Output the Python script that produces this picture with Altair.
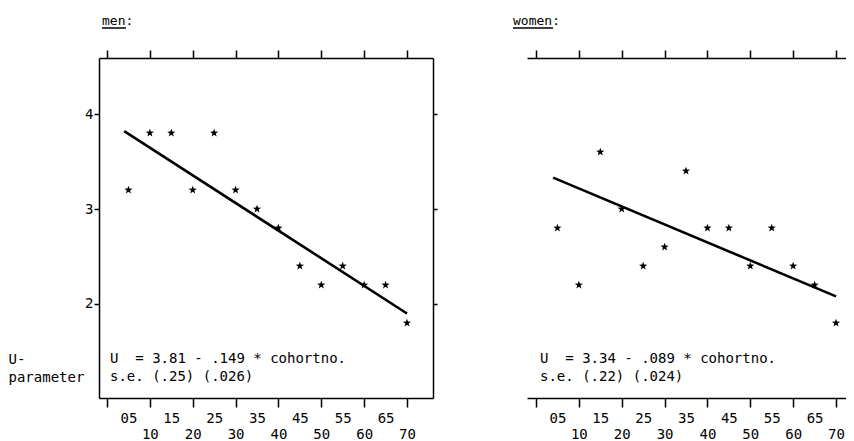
import altair as alt
import pandas as pd

# ---- data ----
cohorts = [5, 10, 15, 20, 25, 30, 35, 40, 45, 50, 55, 60, 65, 70]
men_u = [3.2, 3.8, 3.8, 3.2, 3.8, 3.2, 3.0, 2.8, 2.4, 2.2, 2.4, 2.2, 2.2, 1.8]
women_u = [2.8, 2.2, 3.6, 3.0, 2.4, 2.6, 3.4, 2.8, 2.8, 2.4, 2.8, 2.4, 2.2, 1.8]
fit_x = [4, 70]
men_fit = [3.82, 1.90]
women_fit = [3.33, 2.08]

bottom_ticks = [0, 5, 10, 15, 20, 25, 30, 35, 40, 45, 50, 55, 60, 65, 70]
top_ticks = [0, 10, 20, 30, 40, 50, 60, 70]
y_ticks = [2, 3, 4]

men_title = "men:"
women_title = "women:"
men_eq = ["U \u00a0= 3.81 - .149 * cohortno.", "s.e. (.25) (.026)"]
women_eq = ["U \u00a0= 3.34 - .089 * cohortno.", "s.e. (.22) (.024)"]
y_title = ["U-", "parameter"]

FONT = "DejaVu Sans Mono"
PLOT_H = 340
Y_DOMAIN = [1.01, 4.59]
STAR = ("M0,-1L0.235,-0.324L0.951,-0.309L0.38,0.124L0.588,0.809L0,0.4"
        "L-0.588,0.809L-0.38,0.124L-0.951,-0.309L-0.235,-0.324Z")

LABEL_EXPR = ("datum.value == 0 ? '' : (datum.value % 10 == 0 ? "
              "['', format(datum.value, '02d')] : format(datum.value, '02d'))")


def panel(title, u, fit, eq, xdom, width, title_dx, underline_w, eq_dx, right_axis, ytitle):
    pts = pd.DataFrame({"cohort": cohorts, "u": u})
    line = pd.DataFrame({"cohort": fit_x, "u": fit})
    xs = alt.Scale(domain=xdom, nice=False, zero=False)
    ys = alt.Scale(domain=Y_DOMAIN, nice=False, zero=False)

    bottom = alt.Axis(
        orient="bottom", values=bottom_ticks, labelExpr=LABEL_EXPR,
        tickSize=9,
        tickOpacity={"condition": {"test": "datum.value % 10 == 0", "value": 1}, "value": 0},
        labelBaseline="top", labelPadding=4, labelLineHeight=16,
        labelOverlap=False, labelFlush=False, labelBound=False,
        grid=False, title=None,
    )
    top = alt.Axis(orient="top", values=top_ticks, labels=False, tickSize=8,
                   grid=False, title=None)
    left_kw = dict(orient="left", values=y_ticks, tickSize=5, labelPadding=1,
                   grid=False, format="d")
    if ytitle is not None:
        left_kw.update(title=ytitle, titleAngle=0, titleAlign="left",
                       titleBaseline="alphabetic", titleX=-91, titleY=305,
                       titleFont=FONT, titleFontSize=14, titleFontWeight="normal",
                       titleLineHeight=18)
    else:
        left_kw.update(title=None)
    left = alt.Axis(**left_kw)

    points = alt.Chart(pts).mark_point(
        shape=STAR, filled=True, size=75, color="black", opacity=1
    ).encode(
        x=alt.X("cohort:Q", scale=xs, axis=bottom),
        y=alt.Y("u:Q", scale=ys, axis=left),
    )
    if right_axis:
        right = alt.Axis(orient="right", values=y_ticks, labels=False, tickSize=4,
                         grid=False, title=None)
        fit_y = alt.Y("u:Q", scale=ys, axis=right)
    else:
        fit_y = alt.Y("u:Q", scale=ys, axis=None)
    fitline = alt.Chart(line).mark_line(color="black", strokeWidth=2.6).encode(
        x=alt.X("cohort:Q", scale=xs, axis=top),
        y=fit_y,
    )
    ttl = alt.Chart(pd.DataFrame({"t": [title]})).mark_text(
        align="left", baseline="alphabetic", font=FONT, fontSize=13, color="black"
    ).encode(text="t:N", x=alt.value(title_dx), y=alt.value(-33))
    uline = alt.Chart(pd.DataFrame({"k": [0]})).mark_rule(
        color="black", strokeWidth=1.5
    ).encode(x=alt.value(title_dx), x2=alt.value(title_dx + underline_w),
             y=alt.value(-30))
    eqn = alt.Chart(pd.DataFrame({"k": [0]})).mark_text(
        text=eq, align="left", baseline="alphabetic", font=FONT, fontSize=14,
        lineHeight=18, color="black"
    ).encode(x=alt.value(eq_dx), y=alt.value(305))

    return alt.layer(points, fitline, ttl, uline, eqn).properties(
        width=width, height=PLOT_H)


men = panel(men_title, men_u, men_fit, men_eq, [-1.87, 76.07], 334, 3, 24, 11, True, y_title)
women = panel(women_title, women_u, women_fit, women_eq, [-2.1, 72.33], 319, -14, 40, 13, False, None)

chart = alt.hconcat(men, women, spacing=94, bounds="flush").properties(
    padding={"left": 0, "top": 7, "right": 0, "bottom": 0}
).configure_view(stroke=None).configure_axis(
    domainColor="black", tickColor="black", labelColor="black",
    labelFont=FONT, labelFontSize=14, domainWidth=1.5, tickWidth=1.5,
    titleColor="black",
)

chart.save("out.html", embed_options={"renderer": "svg", "actions": False})
